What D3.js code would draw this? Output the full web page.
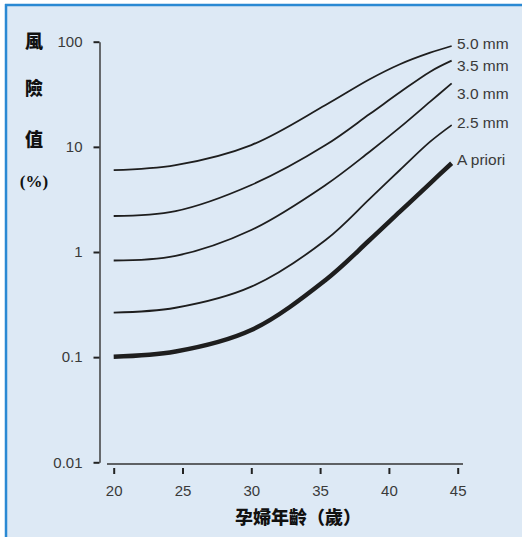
<!DOCTYPE html>
<html><head><meta charset="utf-8">
<script src="https://cdn.jsdelivr.net/npm/d3@7/dist/d3.min.js"></script>
<style>
html,body{margin:0;padding:0;background:#fff;}
svg{display:block;}
</style></head>
<body>
<script>
const seriesNames = ["5.0 mm", "3.5 mm", "3.0 mm", "2.5 mm", "A priori"];
const ages = [20, 24.5, 30, 35.4, 38.6, 40.8, 43.0, 44.56];
const risk50 = [6.0, 6.7, 10.4, 25.0, 43.9, 61, 78.6, 91];
const risk35 = [2.2, 2.45, 4.34, 10.4, 20.5, 33.0, 51.9, 66];
const risk30 = [0.83, 0.92, 1.62, 4.34, 8.99, 15.3, 26.9, 40.2];
const risk25 = [0.265, 0.295, 0.468, 1.30, 3.2, 6.02, 11.2, 16.1];
const riskPrior = [0.101, 0.113, 0.181, 0.542, 1.30, 2.42, 4.50, 6.98];
const seriesValues = [risk50, risk35, risk30, risk25, riskPrior];
const xTicks = [20, 25, 30, 35, 40, 45];
const yTicks = [0.01, 0.1, 1, 10, 100];
const yTickLabels = ["0.01", "0.1", "1", "10", "100"];
const yTitleChars = ["風", "險", "值", "(%)"];
const xTitle = "孕婦年齡（歲）";

const W = 522, H = 537;
const svg = d3.select("body").append("svg").attr("width", W).attr("height", H);

// background panel and border
svg.append("rect").attr("x", 6).attr("y", 5).attr("width", W - 6).attr("height", H - 5).attr("fill", "#dde9f5");
svg.append("line").attr("x1", 6).attr("x2", 6).attr("y1", 4).attr("y2", H).attr("stroke", "#2a89d3").attr("stroke-width", 2.5);
svg.append("line").attr("x1", 5).attr("x2", W).attr("y1", 5).attr("y2", 5).attr("stroke", "#2a89d3").attr("stroke-width", 2.5);

const x = d3.scaleLinear().domain([20, 45]).range([113.7, 457.7]);
const y = d3.scaleLog().domain([0.01, 100]).range([462.3, 41.7]);

const font = "'Liberation Sans', Arial, Helvetica, sans-serif";
const txt = "#3a3a3a";

// y axis
const yAxis = d3.axisLeft(y).tickValues(yTicks)
  .tickFormat((d, i) => yTickLabels[i]).tickSizeInner(6).tickSizeOuter(0).tickPadding(11);
const gy = svg.append("g").attr("transform", "translate(99.5,0)").call(yAxis);
gy.select(".domain").attr("stroke", "#333").attr("stroke-width", 1.4);
gy.selectAll(".tick line").attr("stroke", "#222").attr("stroke-width", 2);
gy.selectAll(".tick text").attr("font-family", font).attr("font-size", 15).attr("fill", txt);

// x axis line (detached from ticks)
svg.append("line").attr("x1", 107).attr("x2", 463).attr("y1", 464).attr("y2", 464)
  .attr("stroke", "#333").attr("stroke-width", 1.4);
const xAxis = d3.axisBottom(x).tickValues(xTicks).tickFormat(d3.format("d"))
  .tickSizeInner(6).tickSizeOuter(0).tickPadding(11.5);
const gx = svg.append("g").attr("transform", "translate(0,468)").call(xAxis);
gx.select(".domain").remove();
gx.selectAll(".tick line").attr("stroke", "#222").attr("stroke-width", 2);
gx.selectAll(".tick text").attr("font-family", font).attr("font-size", 15).attr("fill", txt);

// axis titles
const cjk = "'Noto Sans CJK TC', 'Noto Sans CJK SC', sans-serif";
const yTitlePos = [42, 89, 140, 181];
yTitleChars.forEach((c, i) => {
  svg.append("text").attr("x", 34).attr("y", yTitlePos[i]).attr("dy", "0.36em")
    .attr("text-anchor", "middle").attr("font-family", i === 3 ? "'Liberation Serif', serif" : cjk)
    .attr("font-weight", 900).attr("font-size", i === 3 ? 17 : 18).attr("fill", "#111").text(c);
});
svg.append("text").attr("x", 298).attr("y", 518).attr("dy", "0.36em").attr("text-anchor", "middle")
  .attr("font-family", cjk).attr("font-weight", 900).attr("font-size", 18).attr("fill", "#111").text(xTitle);

// curves
const line = d3.line().x((d, i) => x(ages[i])).y(d => y(d)).curve(d3.curveCatmullRom.alpha(0.5));
seriesValues.forEach((vals, k) => {
  svg.append("path").attr("d", line(vals)).attr("fill", "none")
    .attr("stroke", "#1e1e1e").attr("stroke-width", k === 4 ? 4.5 : 1.8)
    .attr("stroke-linecap", "butt");
});

// series labels
const labelY = [43, 65, 93, 122, 159];
seriesNames.forEach((n, i) => {
  svg.append("text").attr("x", 457).attr("y", labelY[i]).attr("dy", "0.36em")
    .attr("font-family", font).attr("font-size", 15.5).attr("fill", txt).text(n);
});
</script>
</body></html>
